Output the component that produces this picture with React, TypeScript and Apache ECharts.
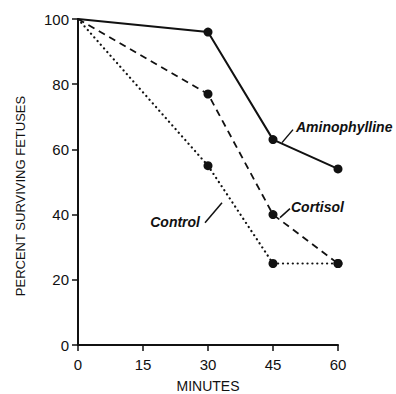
import React, { useEffect, useRef } from "react";
import * as echarts from "echarts";

const minutes = [0, 30, 45, 60];
const aminophylline = [100, 96, 63, 54];
const cortisol = [100, 77, 40, 25];
const control = [100, 55, 25, 25];

const seriesNames = ["Aminophylline", "Cortisol", "Control"];
const yAxisTitle = "PERCENT SURVIVING FETUSES";
const xAxisTitle = "MINUTES";

const FONT = "Liberation Sans, Arial, sans-serif";

function toData(vals: number[]) {
  return vals.map((v, i) =>
    i === 0 ? { value: [minutes[i], v], symbol: "none" } : { value: [minutes[i], v] }
  );
}

export default function App() {
  const ref = useRef<HTMLDivElement>(null);
  useEffect(() => {
    if (!ref.current) return;
    const chart = echarts.init(ref.current, null, { renderer: "svg" });
    const black = "#111";
    chart.setOption({
      animation: false,
      backgroundColor: "#fff",
      grid: { left: 78, right: 58, top: 19, bottom: 49, outerBoundsMode: "none", containLabel: false },
      xAxis: {
        type: "value",
        min: 0,
        max: 60,
        interval: 15,
        name: xAxisTitle,
        nameLocation: "middle",
        nameGap: 34,
        nameTextStyle: { fontFamily: FONT, fontSize: 14, color: black, lineHeight: 14 },
        axisLine: { lineStyle: { color: black, width: 2 } },
        axisTick: { show: true, length: 6, lineStyle: { color: black, width: 1.5 } },
        axisLabel: { fontFamily: FONT, fontSize: 15, color: black, margin: 12 },
        splitLine: { show: false },
      },
      yAxis: {
        type: "value",
        min: 0,
        max: 100,
        interval: 20,
        axisLine: { show: true, lineStyle: { color: black, width: 2 } },
        axisTick: { show: true, length: 6, lineStyle: { color: black, width: 1.5 } },
        axisLabel: { fontFamily: FONT, fontSize: 15, color: black, margin: 9 },
        splitLine: { show: false },
      },
      series: [
        {
          name: seriesNames[0],
          type: "line",
          data: toData(aminophylline),
          symbol: "circle",
          symbolSize: 9,
          itemStyle: { color: black },
          lineStyle: { color: black, width: 2 },
        },
        {
          name: seriesNames[1],
          type: "line",
          data: toData(cortisol),
          symbol: "circle",
          symbolSize: 9,
          itemStyle: { color: black },
          lineStyle: { color: black, width: 1.8, type: [7, 5] },
        },
        {
          name: seriesNames[2],
          type: "line",
          data: toData(control),
          symbol: "circle",
          symbolSize: 9,
          itemStyle: { color: black },
          lineStyle: { color: black, width: 2.2, type: [0.1, 4.8], cap: "round" },
        },
      ],
    });

    const p = (x: number, y: number) => chart.convertToPixel({ gridIndex: 0 }, [x, y]) as number[];
    const a = p(minutes[2], aminophylline[2]);
    const c = p(minutes[2], cortisol[2]);
    const k = p(minutes[1], control[1]);
    const labelStyle = {
      fontFamily: FONT,
      fontSize: 14,
      fontStyle: "italic",
      fontWeight: "bold",
      fill: black,
    };
    chart.setOption({
      graphic: [
        {
          type: "text",
          x: 20,
          y: 196,
          rotation: Math.PI / 2,
          style: { text: yAxisTitle, fontFamily: FONT, fontSize: 13, fill: black, align: "center", verticalAlign: "middle" },
        },
        { type: "line", shape: { x1: a[0] + 9, y1: a[1] + 3, x2: a[0] + 20, y2: a[1] - 10 }, style: { stroke: black, lineWidth: 1.5 } },
        { type: "text", x: a[0] + 23, y: a[1] - 13, style: { ...labelStyle, text: seriesNames[0], verticalAlign: "middle" } },
        { type: "line", shape: { x1: c[0] + 7, y1: c[1] + 3, x2: c[0] + 17, y2: c[1] - 6 }, style: { stroke: black, lineWidth: 1.5 } },
        { type: "text", x: c[0] + 18, y: c[1] - 8, style: { ...labelStyle, text: seriesNames[1], verticalAlign: "middle" } },
        { type: "line", shape: { x1: k[0] - 3, y1: k[1] + 57, x2: k[0] + 14, y2: k[1] + 37 }, style: { stroke: black, lineWidth: 1.5 } },
        { type: "text", x: k[0] - 8, y: k[1] + 56, style: { ...labelStyle, text: seriesNames[2], align: "right", verticalAlign: "middle" } },
      ],
    });
    return () => chart.dispose();
  }, []);
  return <div ref={ref} style={{ width: 396, height: 394, position: "absolute", left: 0, top: 0 }} />;
}
